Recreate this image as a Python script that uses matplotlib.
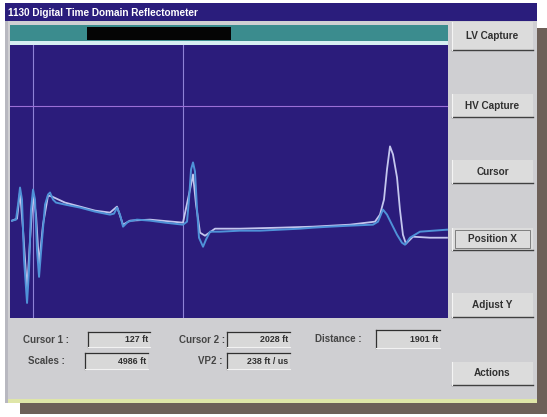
import matplotlib
matplotlib.use("Agg")
import matplotlib.pyplot as plt
from matplotlib.patches import Rectangle

# ---- data ----
title = "1130 Digital Time Domain Reflectometer"
buttons = ["LV Capture", "HV Capture", "Cursor", "Position X", "Adjust Y", "Actions"]
field_labels = ["Cursor 1 :", "Cursor 2 :", "Distance :", "Scales :", "VP2 :"]
field_values = ["127 ft", "2028 ft", "1901 ft", "4986 ft", "238 ft / us"]

cursor_positions_ft = [127, 2027]
marker_level = 125

# trace 1 (blue): distance (ft) and amplitude
blue_x = [-139, -89, -63, -38, -13, 13, 51, 76, 101, 127, 152, 177, 203, 241, 279, 317, 342,
          380, 418, 532, 722, 912, 1102, 1153, 1191, 1229, 1267, 1330, 1444, 1609, 1799, 2027,
          2078, 2103, 2129, 2154, 2179, 2205, 2230, 2281, 2318, 2369, 2496, 2749, 3003, 3256,
          3510, 3674, 3890, 4143, 4435, 4498, 4561, 4612, 4675, 4739, 4802, 4840, 4903, 5030, 5372]
blue_y = [11, 12, 27, 44, 32, -28, -71, -38, 22, 42, 32, -18, -45, -8, 27, 37, 39,
          32, 29, 27, 24, 20, 17, 18, 24, 17, 5, 10, 12, 11, 9, 7,
          10, 32, 62, 69, 60, 22, -6, -15, -8, 0, 0, 1, 1, 2,
          3, 4, 5, 6, 7, 10, 22, 17, 7, -3, -11, -13, -6, 0, 2]

# trace 2 (pale)
pale_x = [-139, -76, -38, 0, 51, 89, 127, 165, 203, 253, 317, 367, 532, 722, 912, 1102, 1191,
          1267, 1356, 1609, 2027, 2116, 2154, 2192, 2243, 2306, 2433, 2749, 3256, 3674, 4143,
          4460, 4523, 4574, 4612, 4650, 4688, 4739, 4776, 4814, 4852, 4903, 4941, 5157, 5372]
pale_y = [11, 13, 40, 2, -58, -8, 37, 17, -33, 7, 36, 35, 29, 25, 21, 19, 25,
          7, 11, 12, 9, 42, 57, 27, -1, -4, 3, 3, 4, 5, 7,
          10, 17, 32, 62, 85, 77, 54, 22, -3, -12, -8, -5, -6, -6]

W, H = 547, 417
fig = plt.figure(figsize=(W / 100, H / 100), dpi=100)
fig.patch.set_facecolor("white")

ui = fig.add_axes([0, 0, 1, 1])
ui.set_xlim(0, W)
ui.set_ylim(H, 0)
ui.axis("off")

def rect(x0, y0, x1, y1, fc, ec="none", lw=0, z=1):
    ui.add_patch(Rectangle((x0, y0), x1 - x0, y1 - y0, facecolor=fc, edgecolor=ec, linewidth=lw, zorder=z))

# shadow
rect(537, 28, 547, 413, "#6d6058", z=0)
rect(20, 403, 547, 414, "#6d6058", z=0)
# window body
rect(5, 3, 537, 403, "#cfcfd2", z=1)
rect(5, 399, 537, 403, "#dfe6a8", z=2)
rect(5, 3, 8, 403, "#b8b8c0", z=2)
# title bar
rect(5, 3, 537, 21, "#2a1d7c", z=2)
ui.text(8, 12.5, title, color="white", fontsize=7.2, fontweight="bold", va="center", ha="left",
        family="Liberation Sans", zorder=3)
# teal bar and black block
rect(10, 25, 448, 41, "#3b8c8e", z=2)
rect(87, 27, 231, 40, "#050505", z=3)
rect(10, 41, 448, 45, "#d6eef2", z=2)

# buttons
btn_y = [(22, 50), (94, 117), (160, 183), (228, 250), (293, 317), (362, 385)]
for name, (y0, y1) in zip(buttons, btn_y):
    rect(452, y0, 533, y1, "#dcdcdc", z=2)
    ui.plot([452, 533], [y1, y1], color="#404040", lw=1.0, zorder=3)
    ui.plot([452, 452], [y0, y1], color="#f4f4f4", lw=0.8, zorder=3)
    ui.text(492.5, (y0 + y1) / 2, name, fontsize=7.2, fontweight="bold", color="#303030",
            ha="center", va="center", family="Liberation Sans", zorder=4)
# focus frame around Position X
rect(455, 230, 530, 248, "none", ec="#707070", lw=0.6, z=4)

# bottom fields
label_pos = [(69, 340), (225, 340), (362, 339), (65, 361), (223, 361)]
box_pos = [(88, 332, 150, 347), (227, 332, 290, 347), (376, 330, 440, 348),
           (85, 353, 148, 369), (227, 353, 290, 369)]
for lab, (lx, ly), val, (bx0, by0, bx1, by1) in zip(field_labels, label_pos, field_values, box_pos):
    ui.text(lx, ly, lab, fontsize=7.0, fontweight="bold", color="#454545", ha="right", va="center",
            family="Liberation Sans", zorder=4)
    rect(bx0, by0, bx1, by1, "#d8d8d8", z=3)
    ui.plot([bx0, bx1], [by0, by0], color="#303030", lw=0.9, zorder=4)
    ui.plot([bx0, bx0], [by0, by1], color="#303030", lw=0.9, zorder=4)
    ui.plot([bx0, bx1], [by1, by1], color="#f2f2f2", lw=0.8, zorder=4)
    ui.text(bx1 - 2, (by0 + by1) / 2, val, fontsize=6.4, fontweight="bold", color="#303030",
            ha="right", va="center", family="Liberation Sans", zorder=5)

# plot area
ax = fig.add_axes([10 / W, (H - 318) / H, 438 / W, 273 / H])
ax.set_facecolor("#2b1c7b")
ax.set_xlim(-165, 5385)
ax.set_ylim(-86, 186)
ax.set_xticks([])
ax.set_yticks([])
for s in ax.spines.values():
    s.set_visible(False)
for cx in cursor_positions_ft:
    ax.axvline(cx, color="#8e82d6", lw=0.8, zorder=1)
ax.axhline(marker_level, color="#9a6fd6", lw=0.8, zorder=1)
ax.plot(pale_x, pale_y, color="#c4c6ee", lw=1.3, zorder=2)
ax.plot(blue_x, blue_y, color="#4f92d8", lw=1.4, zorder=3)

fig.savefig("out.png", dpi=100, facecolor=fig.get_facecolor())
